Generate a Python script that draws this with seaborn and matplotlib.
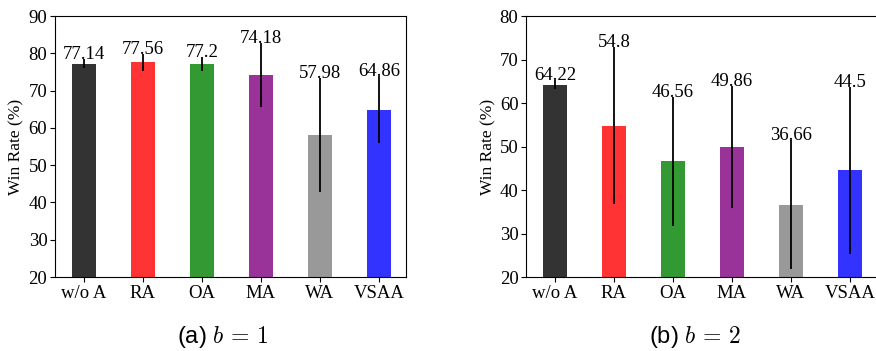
import matplotlib
matplotlib.use("Agg")
import matplotlib.pyplot as plt
import seaborn as sns
import pandas as pd

categories = ["w/o A", "RA", "OA", "MA", "WA", "VSAA"]
colors = ["#333333", "#ff3333", "#339933", "#993399", "#999999", "#3333ff"]

vals_b1 = [77.14, 77.56, 77.2, 74.18, 57.98, 64.86]
errs_b1 = [1.2, 2.3, 1.9, 8.7, 15.3, 9.0]
labels_b1 = ["77.14", "77.56", "77.2", "74.18", "57.98", "64.86"]

vals_b2 = [64.22, 54.8, 46.56, 49.86, 36.66, 44.5]
errs_b2 = [1.1, 18.0, 14.8, 14.1, 14.8, 19.1]
labels_b2 = ["64.22", "54.8", "46.56", "49.86", "36.66", "44.5"]

plt.rcParams["font.family"] = ["Liberation Serif", "DejaVu Serif"]
plt.rcParams["mathtext.fontset"] = "cm"

fig = plt.figure(figsize=(8.76, 3.51), dpi=100)
ax1 = fig.add_axes([0.0628, 0.2108, 0.4007, 0.7436])
ax2 = fig.add_axes([0.6005, 0.2108, 0.4007, 0.7436])

def panel(ax, vals, errs, labels, ylim, yticks, labx):
    df = pd.DataFrame({"cat": categories, "val": vals})
    sns.barplot(data=df, x="cat", y="val", hue="cat", palette=colors,
                width=0.4, saturation=1, legend=False, ax=ax)
    xs = list(range(len(categories)))
    ax.errorbar(xs, vals, yerr=errs, fmt="none", ecolor="black",
                elinewidth=1.3, capsize=0)
    for x, v, e, t in zip(xs, vals, errs, labels):
        ax.text(x, v + e, t, ha="center", va="baseline", fontsize=13.5)
    ax.set_ylim(*ylim)
    ax.set_yticks(yticks)
    ax.set_xlim(-0.49, 5.46)
    ax.set_xlabel("")
    ax.set_ylabel("Win Rate (%)", fontsize=12.5)
    ax.yaxis.set_label_coords(labx, 0.5)
    ax.tick_params(labelsize=13.5, pad=2)

panel(ax1, vals_b1, errs_b1, labels_b1, (20, 90), range(20, 91, 10), -0.088)
panel(ax2, vals_b2, errs_b2, labels_b2, (20, 80), range(20, 81, 10), -0.085)

fig.text(0.2535, 0.022, r"(a) $b\,=\,1$", ha="center", va="baseline",
         fontsize=17, family=["Liberation Sans", "DejaVu Sans"])
fig.text(0.7935, 0.022, r"(b) $b\,=\,2$", ha="center", va="baseline",
         fontsize=17, family=["Liberation Sans", "DejaVu Sans"])

fig.savefig("out.png", dpi=100)
